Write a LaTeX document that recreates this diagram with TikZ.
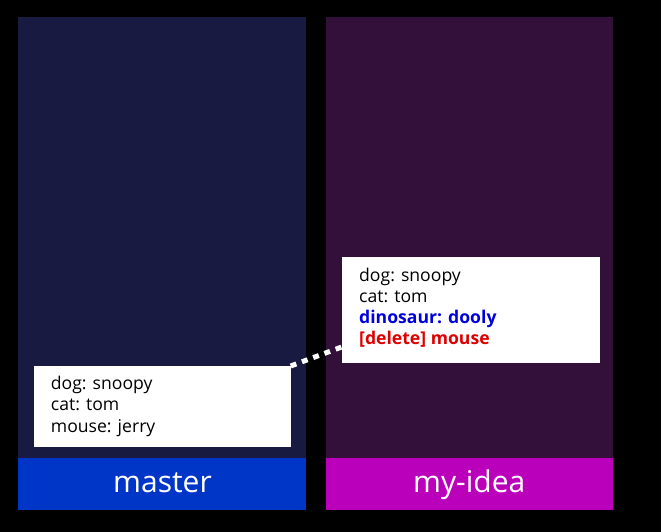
\documentclass[tikz,border=0pt]{standalone}
\usepackage{fontspec}
\setmainfont{Open Sans}
\definecolor{leftbg}{HTML}{181A42}
\definecolor{rightbg}{HTML}{33103A}
\definecolor{masterbar}{HTML}{0036C8}
\definecolor{ideabar}{HTML}{BB00BB}
\definecolor{addblue}{HTML}{0000DD}
\definecolor{delred}{HTML}{DD0000}
\begin{document}
\begin{tikzpicture}[x=1pt,y=-1pt,
  panel/.style={rectangle, draw=none, inner sep=0, anchor=north west},
  card/.style={rectangle, fill=white, draw=none, inner sep=0, anchor=north west},
  line/.style={anchor=base west, inner sep=0, font=\fontsize{17.6}{20}\selectfont},
  boldline/.style={line, font=\fontsize{17.6}{20}\selectfont\bfseries},
  barlabel/.style={anchor=base, inner sep=0, text=white, font=\fontsize{30}{34}\selectfont},
  link/.style={white, line width=5pt, dash pattern=on 6pt off 6pt}]
\fill[black] (0,0) rectangle (661,532);
\useasboundingbox (0,0) rectangle (661,532);
% columns
\node[panel, fill=leftbg, minimum width=287.5pt, minimum height=441pt] (lcol) at (18,17) {};
\node[panel, fill=rightbg, minimum width=287pt, minimum height=441pt] (rcol) at (325.7,17) {};
\node[panel, fill=masterbar, minimum width=287.5pt, minimum height=52pt] (lbar) at (18,458) {};
\node[panel, fill=ideabar, minimum width=287pt, minimum height=52pt] (rbar) at (325.7,458) {};
\node[barlabel] (lname) at (162.5,492) {master};
\node[barlabel] (rname) at (469.2,492.3) {my-idea};
% cards
\node[card, minimum width=257pt, minimum height=81pt] (lbox) at (33.3,366) {};
\node[card, minimum width=257.6pt, minimum height=105.6pt] (rbox) at (341.7,256.7) {};
\node[line] (l1) at (50.7,389) {dog: snoopy};
\node[line] (l2) at (50.7,410.8) {cat: tom};
\node[line] (l3) at (50.7,432.6) {mouse: jerry};
\node[line] (r1) at (359,281.7) {dog: snoopy};
\node[line] (r2) at (359,302.5) {cat: tom};
\node[boldline, text=addblue] (r3) at (359,323.3) {dinosaur: dooly};
\node[boldline, text=delred] (r4) at (359,344) {[delete] mouse};
% connector
\coordinate (cend) at (341.7,347);
\draw[link] (lbox.north east) -- (cend);
\end{tikzpicture}
\end{document}
